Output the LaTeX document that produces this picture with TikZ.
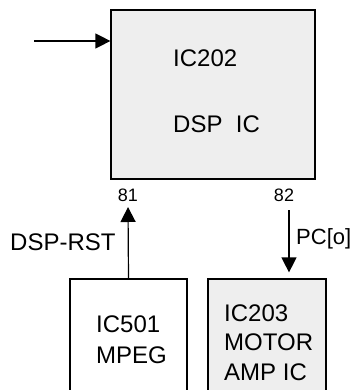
\documentclass[tikz,border=0pt]{standalone}
\usepackage{fontspec}
\setmainfont{Liberation Sans}
\usetikzlibrary{arrows.meta}
\tikzset{
  chip/.style={draw,line width=1.2pt,inner sep=0pt},
  sig/.style={line width=1.2pt,-{Triangle[length=15pt,width=15pt]}},
  big/.style={inner sep=0pt,anchor=base west,font=\fontsize{24}{29}\selectfont},
  pin/.style={inner sep=0pt,anchor=base,font=\fontsize{18}{21}\selectfont}
}
\begin{document}
\begin{tikzpicture}[x=1pt,y=-1pt]
\useasboundingbox (0,0) rectangle (353,390);
\clip (0,0) rectangle (353,390);
% blocks
\node[chip,fill=gray!13,minimum width=204pt,minimum height=169pt] (dsp) at (213,94.5) {};
\node[chip,fill=white,minimum width=117pt,minimum height=121pt] (mpeg) at (128.5,339.5) {};
\node[chip,fill=gray!13,minimum width=118pt,minimum height=121pt] (amp) at (267,339.5) {};
\node[big] (t1) at (173,67) {IC202};
\node[big] (t2) at (173,132) {DSP\ \ IC};
\node[big] (t3) at (96,332) {IC501};
\node[big] (t4) at (96,363) {MPEG};
\node[big] (t5) at (224,321) {IC203};
\node[big] (t6) at (224,350) {MOTOR};
\node[big] (t7) at (224,380) {AMP IC};
% pins and signals
\node[pin] (p81) at (128,201) {81};
\node[pin] (p82) at (284,201) {82};
\node[big] (rst) at (10,250) {DSP-RST};
\node[big,font=\fontsize{22}{26}\selectfont] (pc) at (296,244) {PC[o]};
\coordinate (in) at (34,41);
\coordinate (rsttip) at (128,207);
\coordinate (pcstart) at (289,210);
\draw[sig] (in) -- (in -| dsp.west);
\draw[sig] (mpeg.north) -- (rsttip);
\draw[sig,shorten >=6pt] (pcstart) -- (pcstart |- amp.north);
\end{tikzpicture}
\end{document}
